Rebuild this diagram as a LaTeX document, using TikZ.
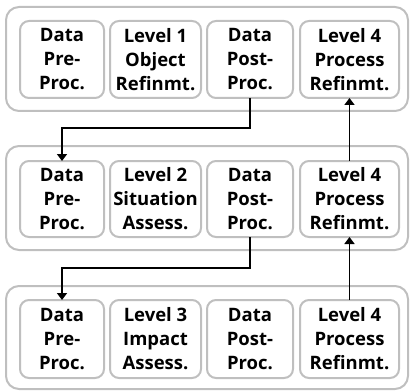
\documentclass[tikz,border=0pt]{standalone}
\usepackage{fontspec}
\setmainfont{Open Sans}
\usetikzlibrary{arrows.meta}
\begin{document}
\begin{tikzpicture}[x=1pt,y=-1pt,
  panel/.style={draw=black!25, line width=2pt, rounded corners=13pt},
  stage/.style={draw=black!25, line width=2pt, rounded corners=9pt, fill=white},
  lbl/.style={font=\fontsize{18.5}{24}\selectfont\bfseries, align=center, inner sep=0pt},
  flow/.style={draw=black, line width=1.6pt, -{Triangle[length=7pt,width=10pt]}}
]
\useasboundingbox (0,0) rectangle (411,390);

% three level rows
\draw[panel] (6,7) rectangle (408,111);
\draw[panel] (6,146) rectangle (408,250);
\draw[panel] (6,286) rectangle (408,389);

% stage boxes: columns and rows
\foreach \r/\ya/\yb in {t/21/98, m/161/237, b/300/378}{
  \foreach \c/\xa/\xb in {1/20/104, 2/110/201, 3/207/293, 4/300/399}{
    \draw[stage] (\xa,\ya) rectangle (\xb,\yb);
    \coordinate (\r\c-n) at ({(\xa+\xb)/2},\ya);
    \coordinate (\r\c-s) at ({(\xa+\xb)/2},\yb);
    \coordinate (\r\c) at ({(\xa+\xb)/2},{(\ya+\yb)/2});
  }
}

% labels
\node[lbl] (lt1) at (t1) {Data\\Pre-\\Proc.};
\node[lbl] (lt2) at (t2) {Level 1\\Object\\Refinmt.};
\node[lbl] (lt3) at (t3) {Data\\Post-\\Proc.};
\node[lbl] (lt4) at (t4) {Level 4\\Process\\Refinmt.};
\node[lbl] (lm1) at (m1) {Data\\Pre-\\Proc.};
\node[lbl] (lm2) at (m2) {Level 2\\Situation\\Assess.};
\node[lbl] (lm3) at (m3) {Data\\Post-\\Proc.};
\node[lbl] (lm4) at (m4) {Level 4\\Process\\Refinmt.};
\node[lbl] (lb1) at (b1) {Data\\Pre-\\Proc.};
\node[lbl] (lb2) at (b2) {Level 3\\Impact\\Assess.};
\node[lbl] (lb3) at (b3) {Data\\Post-\\Proc.};
\node[lbl] (lb4) at (b4) {Level 4\\Process\\Refinmt.};

% flow between rows
\draw[flow] (t3-s) -- ++(0,30) -| (m1-n);
\draw[flow] (m3-s) -- ++(0,31) -| (b1-n);
\draw[flow] (m4-n) -- (t4-s);
\draw[flow] (b4-n) -- (m4-s);
\end{tikzpicture}
\end{document}
